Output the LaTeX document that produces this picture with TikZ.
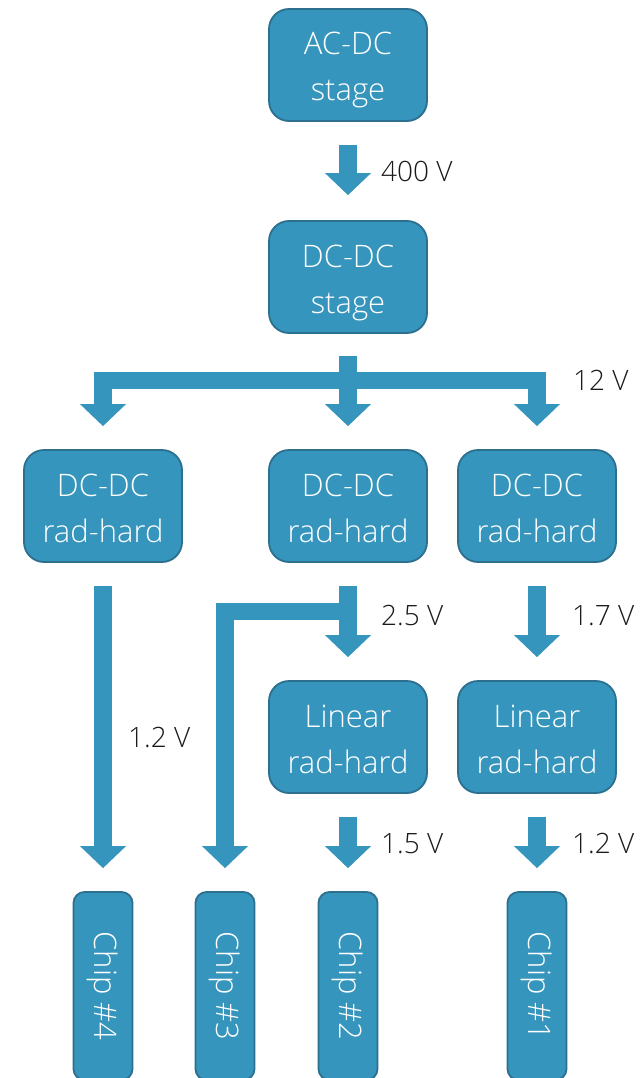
\documentclass[tikz,border=0pt]{standalone}
\usepackage{fontspec}
\setmainfont{Open Sans}[UprightFont={* Light}]
\usetikzlibrary{arrows.meta}
\definecolor{boxfill}{HTML}{3595BC}
\definecolor{boxedge}{HTML}{2C6F8F}
\definecolor{labeltext}{HTML}{1A1A1A}
\begin{document}
\begin{tikzpicture}[x=1pt,y=-1pt,
  stagebox/.style={draw=boxedge, line width=1.8pt, fill=boxfill, rounded corners=20pt,
    minimum width=158pt, minimum height=112pt, inner sep=0pt, align=center,
    text height=72pt, text depth=0pt,
    text=white, font=\fontsize{31}{46}\selectfont},
  chipbox/.style={draw=boxedge, line width=1.8pt, fill=boxfill, rounded corners=11pt,
    minimum width=59pt, minimum height=188pt, inner sep=0pt,
    text=white, font=\fontsize{31}{46}\selectfont},
  flow/.style={draw=boxfill, line width=17.5pt, line join=miter},
  bighead/.tip={Triangle[width=46pt,length=22pt,line width=0pt]},
  volt/.style={anchor=base west, inner sep=0pt, text=labeltext,
    font=\fontsize{28}{34}\selectfont}]
\useasboundingbox (0,0) rectangle (640,1078);

% converter stages
\node[stagebox] (acdc) at (348,65)  {AC-DC\\stage};
\node[stagebox] (dcdc) at (348,277) {DC-DC\\stage};
\node[stagebox] (rh4)  at (103,506) {DC-DC\\rad-hard};
\node[stagebox] (rh2)  at (348,506) {DC-DC\\rad-hard};
\node[stagebox] (rh1)  at (537,506) {DC-DC\\rad-hard};
\node[stagebox] (lin2) at (348,737) {Linear\\rad-hard};
\node[stagebox] (lin1) at (537,737) {Linear\\rad-hard};

% loads
\node[chipbox] (chip4) at (103,986) {\rotatebox{-90}{Chip \#4}};
\node[chipbox] (chip3) at (225,986) {\rotatebox{-90}{Chip \#3}};
\node[chipbox] (chip2) at (348,986) {\rotatebox{-90}{Chip \#2}};
\node[chipbox] (chip1) at (537,986) {\rotatebox{-90}{Chip \#1}};

% power flow arrows
\draw[flow,-bighead] ([yshift=-23pt]acdc.south) -- ([yshift=25pt]dcdc.north);
\draw[flow,-bighead] ([yshift=-22pt]dcdc.south) -- ([yshift=23pt]rh2.north);
\draw[flow,bighead-bighead] ([yshift=23pt]rh4.north) |- ([yshift=-46.5pt]dcdc.south)
  -| ([yshift=23pt]rh1.north);
\draw[flow,-bighead] ([yshift=-23pt]rh4.south) -- ([yshift=23pt]chip4.north);
\draw[flow,-bighead] ([yshift=-23pt]rh2.south) -- ([yshift=23pt]lin2.north);
\draw[flow,-bighead] ([yshift=-48.5pt]rh2.south) -| ([yshift=23pt]chip3.north);
\draw[flow,-bighead] ([yshift=-23pt]rh1.south) -- ([yshift=23pt]lin1.north);
\draw[flow,-bighead] ([yshift=-23pt]lin2.south) -- ([yshift=23pt]chip2.north);
\draw[flow,-bighead] ([yshift=-23pt]lin1.south) -- ([yshift=23pt]chip1.north);

% voltage labels
\node[volt] (v400)  at (381,182) {400 V};
\node[volt] (v12)   at (573,390) {12 V};
\node[volt] (v25)   at (381,625) {2.5 V};
\node[volt] (v17)   at (572,625) {1.7 V};
\node[volt] (v12a)  at (128,747) {1.2 V};
\node[volt] (v15)   at (381,853) {1.5 V};
\node[volt] (v12b)  at (572,853) {1.2 V};
\end{tikzpicture}
\end{document}
